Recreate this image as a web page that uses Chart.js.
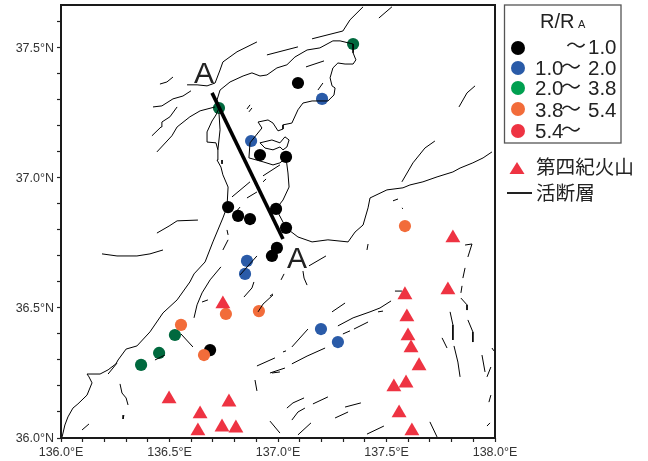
<!DOCTYPE html>
<html><head><meta charset="utf-8">
<style>html,body{margin:0;padding:0;background:#fff}canvas{display:block}</style>
<script src="https://cdn.jsdelivr.net/npm/chart.js@4"></script>
</head><body><canvas id="c" width="648" height="461"></canvas>
<script>
const ratioBelow1 = [[137.092,37.365],[136.770,36.888],[136.816,36.854],[136.871,36.842],[136.917,37.088],[137.037,37.081],[136.991,36.881],[137.037,36.808],[136.972,36.700],[136.995,36.731],[136.687,36.338]];
const ratio1to2 = [[136.876,37.142],[137.203,37.304],[136.857,36.681],[136.848,36.631],[137.198,36.419],[137.276,36.369]];
const ratio2to38 = [[136.728,37.269],[137.346,37.515],[136.525,36.396],[136.452,36.327],[136.369,36.281]];
const ratio38to54 = [[137.585,36.815],[136.553,36.435],[136.760,36.477],[136.912,36.488],[136.659,36.319]];
const volcanoes = [[137.806,36.769],[137.783,36.569],[137.585,36.550],[137.594,36.465],[137.599,36.392],[137.613,36.346],[137.650,36.277],[137.590,36.211],[137.534,36.196],[137.558,36.096],[137.617,36.027],[136.746,36.515],[136.498,36.150],[136.774,36.138],[136.641,36.092],[136.631,36.027],[136.742,36.042],[136.806,36.038]];
const sectionLine = [[136.696,37.327],[137.023,36.765]];
const coastline = [
[[136.005,36.004],[136.018,36.050],[136.032,36.081],[136.055,36.115],[136.078,36.131],[136.120,36.165],[136.143,36.212],[136.129,36.235],[136.120,36.246],[136.180,36.246],[136.217,36.262],[136.253,36.285],[136.263,36.300],[136.300,36.342],[136.350,36.354],[136.410,36.408],[136.470,36.481],[136.535,36.531],[136.594,36.600],[136.613,36.631],[136.664,36.677],[136.700,36.754],[136.746,36.846],[136.765,36.888],[136.770,36.965],[136.746,37.012],[136.737,37.042],[136.719,37.069],[136.723,37.108],[136.714,37.135],[136.673,37.138],[136.673,37.177],[136.696,37.219],[136.714,37.242],[136.728,37.269],[136.719,37.300],[136.733,37.338],[136.779,37.369],[136.839,37.392],[136.880,37.404],[136.917,37.392],[136.949,37.396],[136.995,37.423],[137.041,37.435],[137.078,37.465],[137.134,37.492],[137.193,37.500],[137.253,37.527],[137.286,37.527],[137.346,37.515],[137.346,37.481],[137.359,37.454],[137.346,37.438],[137.309,37.438],[137.276,37.442],[137.253,37.423],[137.240,37.385],[137.249,37.354],[137.263,37.346],[137.258,37.319],[137.230,37.296],[137.157,37.296],[137.115,37.288],[137.092,37.262],[137.064,37.211],[137.023,37.204],[137.023,37.188],[137.000,37.181],[136.977,37.211],[136.954,37.223],[136.908,37.215],[136.926,37.192],[136.871,37.135],[136.866,37.077],[136.931,37.062],[136.977,37.050],[137.009,37.058],[137.037,37.077],[137.046,37.019],[137.051,36.965],[137.023,36.915],[136.991,36.881],[137.037,36.808],[137.092,36.773],[137.157,36.754],[137.230,36.762],[137.323,36.754],[137.355,36.792],[137.392,36.819],[137.415,36.885],[137.424,36.923],[137.502,36.954],[137.576,36.962],[137.608,36.973],[137.668,36.985],[137.733,37.004],[137.806,37.023],[137.839,37.038],[137.898,37.058],[137.945,37.077],[137.986,37.100]],
[[136.917,37.135],[136.972,37.146],[137.009,37.135],[137.032,37.158],[137.051,37.146],[137.041,37.119],[137.023,37.108],[137.009,37.119],[136.977,37.108],[136.940,37.115],[136.917,37.135]],
[[136.723,37.108],[136.733,37.185],[136.728,37.250]]
];
const faults = [
[[136.903,37.523],[136.811,37.485],[136.746,37.446],[136.733,37.415],[136.710,37.365],[136.673,37.354],[136.627,37.358],[136.581,37.358]],
[[136.949,37.473],[137.092,37.504]],
[[137.157,37.535],[137.299,37.565],[137.332,37.608],[137.392,37.658]],
[[137.465,37.615],[137.525,37.658]],
[[137.129,37.427],[137.212,37.450]],
[[137.184,37.338],[137.207,37.365]],
[[137.834,37.273],[137.871,37.327],[137.908,37.354]],
[[137.571,36.985],[137.622,37.058],[137.677,37.115],[137.723,37.142]],
[[137.530,36.912],[137.553,36.919]],
[[137.571,36.885],[137.576,36.881]],
[[136.456,37.361],[136.488,37.369],[136.516,37.388]],
[[136.424,37.273],[136.465,37.277],[136.516,37.304],[136.562,37.315],[136.599,37.335]],
[[136.419,37.162],[136.461,37.196],[136.465,37.215],[136.502,37.235],[136.535,37.273]],
[[136.442,37.100],[136.511,37.162],[136.535,37.196],[136.594,37.235],[136.641,37.258],[136.710,37.273]],
[[136.857,37.265],[136.871,37.281]],
[[136.866,37.254],[136.880,37.269]],
[[136.442,36.788],[136.498,36.815],[136.535,36.835],[136.631,36.838]],
[[136.189,36.708],[136.258,36.700],[136.350,36.700],[136.410,36.708],[136.470,36.723]],
[[136.788,36.927],[136.871,36.985]],
[[136.857,36.923],[136.903,36.946]],
[[136.931,37.008],[137.009,37.050]],
[[136.931,36.985],[136.945,36.996]],
[[136.742,37.069],[136.742,37.054]],
[[136.825,36.888],[136.802,36.865]],
[[136.765,36.800],[136.770,36.781]],
[[136.770,36.762],[136.746,36.723]],
[[136.737,36.658],[136.687,36.608],[136.650,36.558],[136.627,36.512],[136.613,36.462]],
[[136.650,36.523],[136.677,36.531]],
[[136.903,36.700],[136.825,36.627]],
[[136.889,36.600],[136.880,36.577],[136.843,36.542]],
[[136.977,36.550],[136.931,36.515],[136.908,36.485]],
[[136.553,36.400],[136.608,36.350]],
[[136.433,36.300],[136.479,36.319]],
[[136.217,36.246],[136.258,36.288]],
[[136.272,36.208],[136.281,36.173],[136.300,36.154],[136.309,36.127]],
[[136.290,36.088],[136.286,36.073]],
[[136.097,36.031],[136.129,36.054]],
[[136.903,36.277],[136.986,36.308]],
[[136.972,36.250],[137.009,36.254]],
[[136.894,36.223],[136.903,36.181]],
[[136.963,36.065],[137.009,36.019]],
[[137.143,36.662],[137.221,36.700]],
[[137.014,36.608],[137.028,36.631]],
[[137.115,36.642],[137.120,36.615],[137.134,36.588]],
[[136.963,36.546],[136.977,36.554]],
[[137.410,36.723],[137.415,36.746]],
[[137.249,36.485],[137.309,36.519]],
[[137.276,36.431],[137.346,36.462],[137.424,36.485],[137.470,36.500],[137.521,36.527]],
[[137.461,36.485],[137.484,36.488]],
[[137.539,36.565],[137.571,36.565]],
[[137.299,36.400],[137.332,36.412]],
[[137.350,36.419],[137.415,36.446]],
[[137.064,36.350],[137.138,36.419]],
[[137.023,36.331],[137.037,36.335]],
[[137.064,36.285],[137.134,36.315],[137.217,36.346]],
[[136.963,36.250],[137.032,36.269]],
[[137.041,36.115],[137.069,36.135],[137.120,36.154]],
[[137.161,36.131],[137.230,36.158]],
[[137.064,36.069],[137.092,36.100],[137.124,36.115]],
[[137.092,36.012],[137.152,36.058]],
[[137.263,36.077],[137.323,36.100]],
[[137.309,36.119],[137.382,36.135]],
[[137.410,36.015],[137.488,36.046]],
[[137.700,36.062],[137.733,36.004]],
[[137.862,36.742],[137.894,36.746],[137.875,36.696]],
[[137.862,36.654],[137.852,36.615]],
[[137.848,36.585],[137.843,36.558]],
[[137.843,36.538],[137.871,36.512],[137.871,36.492]],
[[137.793,36.485],[137.806,36.435],[137.806,36.377]],
[[137.875,36.454],[137.898,36.408],[137.898,36.369]],
[[137.756,36.385],[137.779,36.346]],
[[137.811,36.354],[137.829,36.292],[137.839,36.235]],
[[137.940,36.319],[137.954,36.254]],
[[137.981,36.273],[137.963,36.235]],
[[137.986,36.346],[137.995,36.335]],
[[137.981,36.165],[137.972,36.138]],
[[137.977,36.058],[137.963,36.046]]
];
const xTickLabelStep = 0.5;
const ratioTitle = ['R/R','A'];
const legendRows = [['','1.0','#000000'],['1.0','2.0','#2a5ba8'],['2.0','3.8','#00a050'],['3.8','5.4','#f26c3a'],['5.4','','#ee3342']];
const legendKeys = ['第四紀火山','活断層'];

const toXY = a => a.map(p => ({x:p[0], y:p[1]}));
const joinPaths = paths => paths.flatMap(p => [...toXY(p), {x:p[p.length-1][0], y:null}]);
const isMajor = v => Math.abs(v/xTickLabelStep - Math.round(v/xTickLabelStep)) < 1e-6;
const dots = (label,data,color,order) => ({label,data:toXY(data),showLine:false,pointRadius:6.1,pointHoverRadius:6.1,pointBackgroundColor:color,pointBorderWidth:0,order});
const lineSet = (label,data,width,order) => ({label,data,showLine:true,borderColor:'#000',borderWidth:width,pointRadius:0,spanGaps:false,tension:0,order});

const overlay = {
  id:'overlay',
  afterDraw(ch){
    const c = ch.ctx, a = ch.chartArea;
    c.save();
    c.strokeStyle = '#1a1a1a'; c.lineWidth = 2;
    c.strokeRect(a.left, a.top, a.right-a.left, a.bottom-a.top);
    const latin = '"Liberation Sans", Arial, sans-serif', cjk = '"Noto Sans CJK JP", sans-serif';
    c.fillStyle = '#222'; c.textBaseline = 'alphabetic'; c.textAlign = 'left';
    c.font = '30px '+latin;
    c.fillText('A', 194, 83);
    c.fillText('A', 287, 268);
    c.strokeStyle = '#555'; c.lineWidth = 1.3;
    c.strokeRect(504.5, 5, 116.5, 138);
    c.font = '20px '+latin;
    c.fillText(ratioTitle[0], 540, 28);
    c.font = '11px '+latin;
    c.fillText(ratioTitle[1], 578, 28);
    const ys = [54,75,95,117,138], cy = [48,68,88,109,131];
    legendRows.forEach((r,i) => {
      c.fillStyle = r[2];
      c.beginPath(); c.arc(518, cy[i], 7, 0, Math.PI*2); c.fill();
      c.fillStyle = '#222';
      c.font = '20.5px '+latin;
      if (r[0]) c.fillText(r[0], 535, ys[i]);
      if (r[1]) c.fillText(r[1], 588, ys[i]);
      c.font = '20px '+cjk;
      c.fillText('〜', i===0 ? 566 : 561, ys[i]-1);
    });
    c.fillStyle = '#ee3342';
    c.beginPath(); c.moveTo(517,162); c.lineTo(524.5,174); c.lineTo(509.5,174); c.closePath(); c.fill();
    c.fillStyle = '#222';
    c.font = '19.6px '+cjk;
    c.fillText(legendKeys[0], 536, 174);
    c.fillText(legendKeys[1], 536, 200);
    c.strokeStyle = '#222'; c.lineWidth = 2;
    c.beginPath(); c.moveTo(507,193); c.lineTo(532,193); c.stroke();
    c.restore();
  }
};

new Chart(document.getElementById('c'), {
  type:'scatter',
  data:{datasets:[
    lineSet('断面',toXY(sectionLine),3.6,0),
    lineSet('活断層',joinPaths(faults),1,1),
    lineSet('海岸線',joinPaths(coastline),1,2),
    {label:'第四紀火山',data:toXY(volcanoes),showLine:false,pointStyle:'triangle',pointRadius:8.6,pointHoverRadius:8.6,pointBackgroundColor:'#ee3342',pointBorderWidth:0,order:3},
    dots('3.8-5.4',ratio38to54,'#f26c3a',4),
    dots('2.0-3.8',ratio2to38,'#00693e',5),
    dots('1.0-2.0',ratio1to2,'#2a5ba8',6),
    dots('-1.0',ratioBelow1,'#000000',7)
  ]},
  plugins:[overlay],
  options:{
    responsive:false, animation:false, events:[],
    layout:{autoPadding:false,padding:{top:5,right:153,left:0,bottom:0}},
    plugins:{legend:{display:false},tooltip:{enabled:false}},
    scales:{
      x:{type:'linear',min:136,max:138,
        afterFit(s){s.height=23;s.paddingLeft=0;s.paddingRight=0;},
        grid:{drawOnChartArea:false,drawTicks:true,tickLength:4,color:'#222',tickWidth:1.2},
        border:{display:false},
        ticks:{stepSize:0.1,autoSkip:false,maxRotation:0,padding:3,color:'#333',font:{family:'"Liberation Sans", Arial, sans-serif',size:12.5},
          callback:v=>isMajor(v)?v.toFixed(1)+'°E':''}},
      y:{type:'linear',min:36,max:37.665,
        afterFit(s){s.width=61;s.paddingTop=0;s.paddingBottom=0;},
        grid:{drawOnChartArea:false,drawTicks:true,tickLength:4,color:'#222',tickWidth:1.2},
        border:{display:false},
        ticks:{stepSize:0.1,includeBounds:false,autoSkip:false,padding:3,labelOffset:1,color:'#333',font:{family:'"Liberation Sans", Arial, sans-serif',size:12.5},
          callback:v=>isMajor(v)?v.toFixed(1)+'°N':''}}
    }
  }
});
</script></body></html>
